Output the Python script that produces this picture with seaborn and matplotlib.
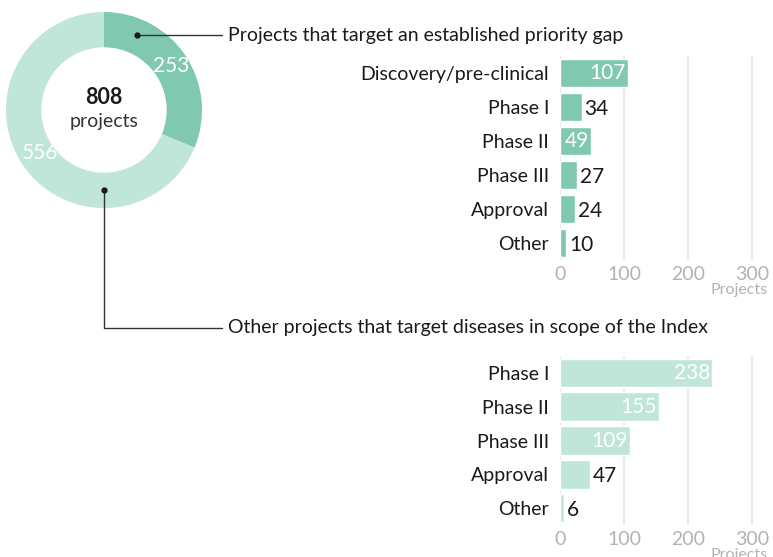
import numpy as np
import pandas as pd
import matplotlib
matplotlib.use("Agg")
import matplotlib.pyplot as plt
import seaborn as sns

# data
donut_labels = ["Priority gap", "Other in scope"]
donut_values = [253, 556]
total_projects = 808

gap_stages = ["Discovery/pre-clinical", "Phase I", "Phase II", "Phase III", "Approval", "Other"]
gap_counts = [107, 34, 49, 27, 24, 10]
gap_inside = [True, False, True, False, False, False]

other_stages = ["Phase I", "Phase II", "Phase III", "Approval", "Other"]
other_counts = [238, 155, 109, 47, 6]
other_inside = [True, True, True, False, False]

x_ticks = [0, 100, 200, 300]

dark_green = "#80c9b0"
light_green = "#c0e5d9"
tick_grey = "#b3b3b3"
grid_grey = "#e5e5e5"

sns.set_theme(style="white")
plt.rcParams['font.family'] = ['Lato', 'DejaVu Sans']

W, H = 773, 557
fig = plt.figure(figsize=(W / 100, H / 100), dpi=100)


def px_axes(left, top, right, bottom):
    return fig.add_axes([left / W, 1 - bottom / H, (right - left) / W, (bottom - top) / H])


# donut
cx, cy, R = 104, 110, 98
ax_d = px_axes(cx - R, cy - R, cx + R, cy + R)
ax_d.pie(donut_values, colors=[dark_green, light_green], startangle=90, counterclock=False,
         radius=1, wedgeprops=dict(width=0.36, linewidth=0))
ax_d.set_xlim(-1, 1)
ax_d.set_ylim(-1, 1)
ax_d.set_aspect("equal")
ax_d.axis("off")
ax_d.text(0, 0.13, str(total_projects), ha="center", va="center", fontsize=15.5, fontweight="bold", color="#1a1a1a")
ax_d.text(0, -0.12, "projects", ha="center", va="center", fontsize=14, color="#333333")
ax_d.text(0.69, 0.45, str(donut_values[0]), ha="center", va="center", fontsize=15, color="white")
ax_d.text(-0.65, -0.44, str(donut_values[1]), ha="center", va="center", fontsize=15, color="white")


def bar_panel(top, bottom, stages, counts, inside, color):
    ax = px_axes(560, top, 768, bottom)
    df = pd.DataFrame({"stage": stages, "count": counts})
    sns.barplot(data=df, x="count", y="stage", orient="h", color=color, width=0.85,
                saturation=1, ax=ax, zorder=3)
    ax.set_xlim(0, 325)
    ax.set_xticks(x_ticks)
    for t in x_ticks:
        ax.axvline(t, color=grid_grey, lw=1.2, zorder=1)
    for s in ax.spines.values():
        s.set_visible(False)
    ax.tick_params(axis="both", length=0)
    ax.tick_params(axis="y", pad=8, labelsize=14, labelcolor="#1a1a1a")
    ax.tick_params(axis="x", pad=4, labelsize=14, labelcolor=tick_grey)
    ax.set_ylabel("")
    ax.set_xlabel("Projects", loc="right", color=tick_grey, fontsize=11.5, labelpad=0)
    for i, (v, inn) in enumerate(zip(counts, inside)):
        if inn:
            ax.text(v - 4, i, str(v), ha="right", va="center", color="white", fontsize=15, zorder=4)
        else:
            ax.text(v + 4, i + 0.05, str(v), ha="left", va="center", color="#1a1a1a", fontsize=15, zorder=4)
    return ax


bar_panel(56, 260, gap_stages, gap_counts, gap_inside, dark_green)
bar_panel(356, 525, other_stages, other_counts, other_inside, light_green)

# connectors in pixel space
ov = fig.add_axes([0, 0, 1, 1])
ov.set_xlim(0, W)
ov.set_ylim(H, 0)
ov.axis("off")
ov.patch.set_alpha(0)

a1 = np.deg2rad(66)
d1 = (cx + 82 * np.cos(a1), cy - 82 * np.sin(a1))
ov.plot([d1[0], 222], [d1[1], d1[1]], color="#333333", lw=1)
ov.plot(*d1, "o", color="#1a1a1a", ms=3.5)
ov.text(228, d1[1], "Projects that target an established priority gap", ha="left", va="center",
        fontsize=14, color="#1a1a1a")

d2 = (cx, cy + 80)
ov.plot([d2[0], d2[0], 222], [d2[1], 328, 328], color="#333333", lw=1)
ov.plot(*d2, "o", color="#1a1a1a", ms=3.5)
ov.text(228, 328, "Other projects that target diseases in scope of the Index", ha="left", va="center",
        fontsize=14, color="#1a1a1a")

fig.savefig("out.png", dpi=100)
